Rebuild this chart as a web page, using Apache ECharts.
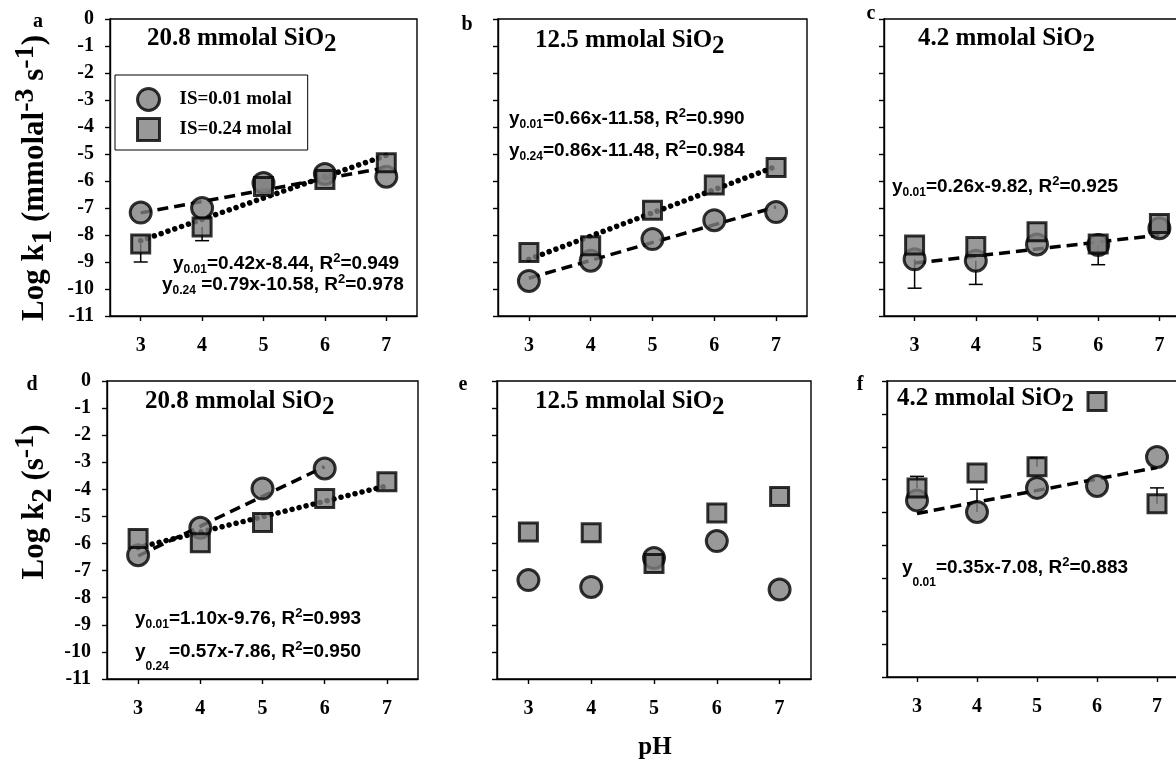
<!DOCTYPE html>
<html>
<head>
<meta charset="utf-8">
<script src="https://cdn.jsdelivr.net/npm/echarts@6/dist/echarts.min.js"></script>
<style>
  html, body { margin: 0; padding: 0; background: #fff; }
  #chart { width: 1176px; height: 761px; }
</style>
</head>
<body>
<div id="chart"></div>
<script>
// pH values shared by every panel
const pH = [3, 4, 5, 6, 7];
const xTicks = [3, 4, 5, 6, 7];

// a: log k1, 20.8 mmolal SiO2
const k1_208_is001 = [-7.17, -7.0, -6.07, -5.74, -5.84];
const k1_208_is024 = [-8.33, -7.7, -6.2, -5.94, -5.32];
const k1_208_is024_errLo = [-9.0, -8.21, null, null, null];
const k1_208_fit001 = [-7.18, -5.5];   // ends at pH 3 and 7
const k1_208_fit024 = [-8.21, -5.05];

// b: log k1, 12.5 mmolal SiO2
const k1_125_is001 = [-9.7, -8.95, -8.15, -7.45, -7.15];
const k1_125_is024 = [-8.65, -8.4, -7.08, -6.15, -5.5];
const k1_125_fit001 = [-9.6, -6.96];
const k1_125_fit024 = [-8.9, -5.46];

// c: log k1, 4.2 mmolal SiO2
const k1_42_is001 = [-8.9, -8.95, -8.35, -8.37, -7.75];
const k1_42_is024 = [-8.37, -8.43, -7.88, -8.33, -7.57];
const k1_42_is001_errLo = [-9.97, -9.83, null, -9.1, null];
const k1_42_fit001 = [-9.04, -8.0];

// d: log k2, 20.8 mmolal SiO2
const k2_208_is001 = [-6.43, -5.42, -3.97, -3.23, null];
const k2_208_is024 = [-5.81, -5.97, -5.22, -4.34, -3.72];
const k2_208_fit001 = [-6.46, -3.16];  // ends at pH 3 and 6
const k2_208_fit024 = [-6.15, -3.87];

// e: log k2, 12.5 mmolal SiO2
const k2_125_is001 = [-7.35, -7.6, -6.53, -5.91, -7.7];
const k2_125_is024 = [-5.57, -5.6, -6.74, -4.87, -4.26];

// f: log k2, 4.2 mmolal SiO2
const k2_42_is001 = [-5.63, -5.98, -5.25, -5.19, -4.31];
const k2_42_is024 = [-5.25, -4.8, -4.61, -2.62, -5.73];
const k2_42_is001_errHi = [null, -5.29, null, null, null];
const k2_42_is024_errHi = [-4.9, null, -4.33, null, -5.25];
const k2_42_fit001 = [-6.03, -4.63];

const SERIF = 'Liberation Serif';
const SANS = 'Liberation Sans';

const grids = [
  { left: 110, top: 19, width: 307, height: 297 },
  { left: 498, top: 19, width: 309, height: 297 },
  { left: 884, top: 19, width: 306, height: 297 },
  { left: 107, top: 381, width: 311, height: 298 },
  { left: 497, top: 381, width: 314, height: 298 },
  { left: 887, top: 381, width: 300, height: 296 }
];

function pts(vals) {
  const out = [];
  vals.forEach((v, i) => { if (v !== null) out.push([pH[i], v]); });
  return out;
}
function errPts(center, ends) {
  const out = [];
  ends.forEach((e, i) => { if (e !== null) out.push([pH[i], center[i], e]); });
  return out;
}

function errRender(params, api) {
  const x = api.value(0);
  const p0 = api.coord([x, api.value(1)]);
  const p1 = api.coord([x, api.value(2)]);
  const st = { stroke: '#000', lineWidth: 1.5 };
  return {
    type: 'group',
    children: [
      { type: 'line', shape: { x1: p0[0], y1: p0[1], x2: p1[0], y2: p1[1] }, style: st },
      { type: 'line', shape: { x1: p1[0] - 7, y1: p1[1], x2: p1[0] + 7, y2: p1[1] }, style: st }
    ]
  };
}

// dotted fit line with round dots
function dotRender(params, api) {
  const a = api.coord([api.value(0), api.value(1)]);
  const b = api.coord([api.value(2), api.value(3)]);
  return {
    type: 'line',
    shape: { x1: a[0], y1: a[1], x2: b[0], y2: b[1] },
    style: { stroke: '#000', lineWidth: 5.5, lineDash: [0.01, 7.2], lineCap: 'round' }
  };
}

const series = [];
function circles(i, vals) {
  series.push({
    name: 'IS=0.01 molal', type: 'scatter', xAxisIndex: i, yAxisIndex: i, z: 4,
    symbol: 'circle', symbolSize: 21, data: pts(vals),
    itemStyle: { color: '#808080', borderColor: '#000', borderWidth: 3 }
  });
}
function squares(i, vals) {
  series.push({
    name: 'IS=0.24 molal', type: 'scatter', xAxisIndex: i, yAxisIndex: i, z: 5,
    symbol: 'rect', symbolSize: 18, data: pts(vals),
    itemStyle: { color: '#808080', borderColor: '#000', borderWidth: 3 }
  });
}
function fitDashed(i, x0, x1, ends) {
  series.push({
    type: 'line', xAxisIndex: i, yAxisIndex: i, z: 3, symbol: 'none', silent: true,
    data: [[x0, ends[0]], [x1, ends[1]]],
    lineStyle: { color: '#000', width: 3.5, type: [11, 6] }
  });
}
function fitDotted(i, x0, x1, ends) {
  series.push({
    type: 'custom', xAxisIndex: i, yAxisIndex: i, z: 3, silent: true,
    renderItem: dotRender, data: [[x0, ends[0], x1, ends[1]]]
  });
}
function errs(i, center, ends) {
  series.push({
    type: 'custom', xAxisIndex: i, yAxisIndex: i, z: 2, silent: true,
    renderItem: errRender, data: errPts(center, ends)
  });
}

fitDashed(0, 3, 7, k1_208_fit001);
fitDotted(0, 3, 7, k1_208_fit024);
errs(0, k1_208_is024, k1_208_is024_errLo);
circles(0, k1_208_is001);
squares(0, k1_208_is024);

fitDashed(1, 3, 7, k1_125_fit001);
fitDotted(1, 3, 7, k1_125_fit024);
circles(1, k1_125_is001);
squares(1, k1_125_is024);

fitDashed(2, 3, 7, k1_42_fit001);
errs(2, k1_42_is001, k1_42_is001_errLo);
circles(2, k1_42_is001);
squares(2, k1_42_is024);

fitDashed(3, 3, 6, k2_208_fit001);
fitDotted(3, 3, 7, k2_208_fit024);
circles(3, k2_208_is001);
squares(3, k2_208_is024);

circles(4, k2_125_is001);
squares(4, k2_125_is024);

fitDashed(5, 3, 7, k2_42_fit001);
errs(5, k2_42_is001, k2_42_is001_errHi);
errs(5, k2_42_is024, k2_42_is024_errHi);
circles(5, k2_42_is001);
squares(5, k2_42_is024);

const axisLine = { show: true, onZero: false, lineStyle: { color: '#000', width: 1.4 } };
const xAxes = grids.map((g, i) => ({
  type: 'value', gridIndex: i, min: 2.5, max: 7.5,
  axisLine: axisLine,
  axisTick: { show: true, inside: false, length: 5, customValues: xTicks, lineStyle: { color: '#000', width: 1.4 } },
  axisLabel: { customValues: xTicks, margin: 20, color: '#000', fontFamily: SERIF, fontWeight: 'bold', fontSize: 20 },
  splitLine: { show: false }
}));
const yAxes = grids.map((g, i) => ({
  type: 'value', gridIndex: i, min: -11, max: i === 5 ? -2 : 0, interval: 1,
  axisLine: axisLine,
  axisTick: { show: true, inside: false, length: 5, lineStyle: { color: '#000', width: 1.4 } },
  axisLabel: { show: i === 0 || i === 3, margin: 16, color: '#000', fontFamily: SERIF, fontWeight: 'bold', fontSize: 20 },
  splitLine: { show: false }
}));

const titleRich = {
  m: { fontFamily: SERIF, fontWeight: 'bold', fontSize: 25, lineHeight: 36, color: '#000' },
  s: { fontFamily: SERIF, fontWeight: 'bold', fontSize: 25, verticalAlign: 'bottom', color: '#000' }
};
const eqRich = {
  m: { fontFamily: SANS, fontWeight: 'bold', fontSize: 19, lineHeight: 24, color: '#000' },
  s: { fontFamily: SANS, fontWeight: 'bold', fontSize: 12, verticalAlign: 'bottom', color: '#000' },
  s2: { fontFamily: SANS, fontWeight: 'bold', fontSize: 12, padding: [29, 0, 0, 0], color: '#000' },
  p: { fontFamily: SANS, fontWeight: 'bold', fontSize: 13, verticalAlign: 'top', color: '#000' },
  p2: { fontFamily: SANS, fontWeight: 'bold', fontSize: 13, verticalAlign: 'top', padding: [8, 0, 0, 0], color: '#000' }
};
const yTitleRich = {
  m: { fontFamily: SERIF, fontWeight: 'bold', fontSize: 31, lineHeight: 46, color: '#000' },
  s: { fontFamily: SERIF, fontWeight: 'bold', fontSize: 29, verticalAlign: 'bottom', color: '#000' },
  p: { fontFamily: SERIF, fontWeight: 'bold', fontSize: 28, verticalAlign: 'top', color: '#000' }
};

function txt(x, y, text, rich) {
  return {
    type: 'text', x: x, y: y, z: 10, silent: true,
    style: { text: text, rich: rich, align: 'left', verticalAlign: 'middle' }
  };
}
function letter(x, y, t) {
  return {
    type: 'text', x: x, y: y, z: 10, silent: true,
    style: { text: t, align: 'center', verticalAlign: 'middle', fontFamily: SERIF, fontWeight: 'bold', fontSize: 20, fill: '#000' }
  };
}

const graphics = [
  letter(38, 22, 'a'), letter(467, 25, 'b'), letter(871, 14, 'c'),
  letter(32, 385, 'd'), letter(463, 385, 'e'), letter(860, 385, 'f'),

  txt(147, 39, '{m|20.8 mmolal SiO}{s|2}', titleRich),
  txt(535, 41, '{m|12.5 mmolal SiO}{s|2}', titleRich),
  txt(918, 39, '{m|4.2 mmolal SiO}{s|2}', titleRich),
  txt(145, 402, '{m|20.8 mmolal SiO}{s|2}', titleRich),
  txt(535, 402, '{m|12.5 mmolal SiO}{s|2}', titleRich),
  txt(897, 399, '{m|4.2 mmolal SiO}{s|2}', titleRich),

  txt(173, 264, '{m|y}{s|0.01}{m|=0.42x-8.44, R}{p|2}{m|=0.949}', eqRich),
  txt(162, 285, '{m|y}{s|0.24}{m| =0.79x-10.58, R}{p|2}{m|=0.978}', eqRich),
  txt(509, 119, '{m|y}{s|0.01}{m|=0.66x-11.58, R}{p|2}{m|=0.990}', eqRich),
  txt(509, 151, '{m|y}{s|0.24}{m|=0.86x-11.48, R}{p|2}{m|=0.984}', eqRich),
  txt(892, 187, '{m|y}{s|0.01}{m|=0.26x-9.82, R}{p|2}{m|=0.925}', eqRich),
  txt(135, 619, '{m|y}{s|0.01}{m|=1.10x-9.76, R}{p|2}{m|=0.993}', eqRich),
  txt(135, 652, '{m|y}{s2|0.24}{m|=0.57x-7.86, R}{p2|2}{m|=0.950}', eqRich),
  txt(902, 568, '{m|y}{s2|0.01}{m|=0.35x-7.08, R}{p2|2}{m|=0.883}', eqRich),

  {
    type: 'text', x: 35, y: 178, rotation: Math.PI / 2, z: 10, silent: true,
    style: { text: '{m|Log k}{s|1}{m| (mmolal}{p|-3}{m| s}{p|-1}{m|)}', rich: yTitleRich, align: 'center', verticalAlign: 'middle' }
  },
  {
    type: 'text', x: 35, y: 502, rotation: Math.PI / 2, z: 10, silent: true,
    style: { text: '{m|Log k}{s|2}{m| (s}{p|-1}{m|)}', rich: yTitleRich, align: 'center', verticalAlign: 'middle' }
  },
  {
    type: 'text', x: 655, y: 748, z: 10, silent: true,
    style: { text: 'pH', align: 'center', verticalAlign: 'middle', fontFamily: SERIF, fontWeight: 'bold', fontSize: 25, fill: '#000' }
  }
];

const chart = echarts.init(document.getElementById('chart'), null, { renderer: 'canvas' });
chart.setOption({
  animation: false,
  backgroundColor: '#fff',
  grid: grids.map(g => Object.assign({
    show: true, borderColor: '#000', borderWidth: 1.4, backgroundColor: 'transparent',
    containLabel: false, outerBoundsMode: 'none'
  }, g)),
  xAxis: xAxes,
  yAxis: yAxes,
  legend: {
    left: 115, top: 75, orient: 'vertical',
    borderColor: '#000', borderWidth: 1,
    padding: [12, 16, 8, 21], itemGap: 5, itemWidth: 22, itemHeight: 22,
    selectedMode: false,
    textStyle: { fontFamily: SERIF, fontWeight: 'bold', fontSize: 19, color: '#000', padding: [0, 0, 0, 15] },
    itemStyle: { borderWidth: 3, borderColor: '#000', color: '#808080' },
    data: [
      { name: 'IS=0.01 molal', icon: 'circle' },
      { name: 'IS=0.24 molal', icon: 'rect' }
    ]
  },
  graphic: graphics,
  series: series
});
</script>
</body>
</html>
